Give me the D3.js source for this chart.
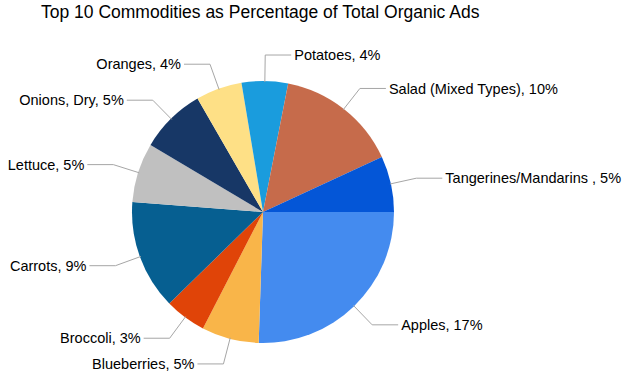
<!DOCTYPE html>
<html>
<head>
<meta charset="utf-8">
<script src="https://cdn.jsdelivr.net/npm/d3@7"></script>
<style>
  body { margin: 0; background: #fff; }
  text { font-family: 'Liberation Sans', Arial, sans-serif; fill: #000; }
</style>
</head>
<body>
<div id="chart"></div>
<script>
const categories = ['Apples', 'Blueberries', 'Broccoli', 'Carrots', 'Lettuce',
  'Onions, Dry', 'Oranges', 'Potatoes', 'Salad (Mixed Types)', 'Tangerines/Mandarins '];
const shares = [17, 4.7, 3.4, 9, 4.9, 5.4, 3.8, 3.8, 10, 4.6];
const colors = ['#448BEF', '#F9B549', '#E04408', '#065F91', '#C0C0C0',
  '#173766', '#FEE086', '#1A9CDD', '#C66B4B', '#0456D7'];
const title = 'Top 10 Commodities as Percentage of Total Organic Ads';

const width = 626, height = 376;
const cx = 263, cy = 212, radius = 131;

const svg = d3.select('#chart')
  .append('svg')
  .attr('width', width)
  .attr('height', height);

svg.append('text')
  .attr('x', 41)
  .attr('y', 18)
  .style('font-size', '17.5px')
  .text(title);

const data = categories.map((c, i) => ({ name: c, value: shares[i], color: colors[i] }));

const pie = d3.pie()
  .sort(null)
  .value(d => d.value)
  .startAngle(Math.PI / 2)
  .endAngle(Math.PI / 2 + 2 * Math.PI);

const arc = d3.arc().innerRadius(0).outerRadius(radius);
const edgeArc = d3.arc().innerRadius(radius - 1).outerRadius(radius - 1);
const elbowArc = d3.arc().innerRadius(157).outerRadius(157);

const g = svg.append('g')
  .attr('transform', 'translate(' + cx + ',' + cy + ')');

const arcs = pie(data);

g.selectAll('path.slice')
  .data(arcs)
  .enter()
  .append('path')
  .attr('class', 'slice')
  .attr('d', arc)
  .attr('fill', d => d.data.color);

// leader lines
const side = d => (Math.sin((d.startAngle + d.endAngle) / 2) >= 0 ? 1 : -1);

g.selectAll('polyline')
  .data(arcs)
  .enter()
  .append('polyline')
  .attr('fill', 'none')
  .attr('stroke', '#A6A6A6')
  .attr('stroke-width', 1)
  .attr('points', d => {
    const a = edgeArc.centroid(d);
    const b = elbowArc.centroid(d);
    const c = [b[0] + side(d) * 26, b[1]];
    return [a, b, c].map(p => p.join(',')).join(' ');
  });

g.selectAll('text.label')
  .data(arcs)
  .enter()
  .append('text')
  .attr('class', 'label')
  .attr('x', d => elbowArc.centroid(d)[0] + side(d) * 29)
  .attr('y', d => elbowArc.centroid(d)[1])
  .attr('dy', '0.35em')
  .attr('text-anchor', d => (side(d) > 0 ? 'start' : 'end'))
  .style('font-size', '14.5px')
  .text(d => d.data.name + ', ' + Math.round(d.data.value) + '%');
</script>
</body>
</html>
